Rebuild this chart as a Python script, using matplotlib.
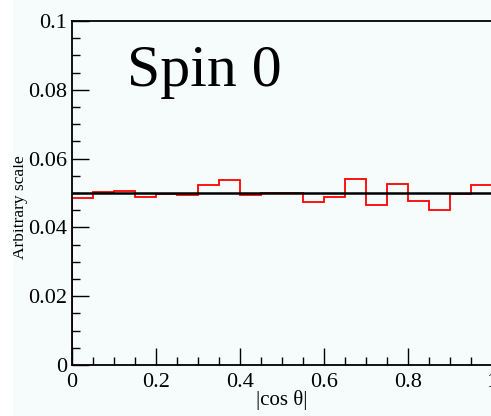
import numpy as np
import matplotlib
matplotlib.use("Agg")
import matplotlib.pyplot as plt
from matplotlib.ticker import MultipleLocator, FormatStrFormatter
from matplotlib.patches import Rectangle

# ---- DATA ---- #
bin_edges = np.linspace(0.0, 1.0, 21)
spin0_hist = [0.0485, 0.0502, 0.0506, 0.0487, 0.0498, 0.0493, 0.0522, 0.0539, 0.0494, 0.0501,
              0.0500, 0.0474, 0.0488, 0.0541, 0.0465, 0.0525, 0.0478, 0.0452, 0.0497, 0.0522]
flat_level = 0.05
x_ticks = [0, 0.2, 0.4, 0.6, 0.8, 1.0]
y_ticks = [0, 0.02, 0.04, 0.06, 0.08, 0.1]

plt.rcParams['font.family'] = ['Liberation Serif', 'DejaVu Serif']

# ---- PLOT ---- #
fig = plt.figure(figsize=(4.91, 4.16), dpi=100, facecolor='#f6fbfb')
ax = fig.add_axes([72 / 491, 1 - 365 / 416, 420 / 491, 344 / 416])
ax.set_facecolor('#f6fbfb')

ax.stairs(spin0_hist, bin_edges, color='red', lw=1.3)
ax.axhline(flat_level, color='black', lw=1.8)

ax.set_xlim(0, 1)
ax.set_ylim(0, 0.1)
ax.set_xticks(x_ticks)
ax.set_yticks(y_ticks)
ax.xaxis.set_major_formatter(FormatStrFormatter('%g'))
ax.yaxis.set_major_formatter(FormatStrFormatter('%g'))
ax.xaxis.set_minor_locator(MultipleLocator(0.05))
ax.yaxis.set_minor_locator(MultipleLocator(0.005))
ax.tick_params(which='both', direction='in', top=False, right=False, width=1, labelsize=16)
ax.tick_params(which='major', length=12)
ax.tick_params(which='minor', length=6)
ax.tick_params(axis='x', pad=5.5)
ax.tick_params(axis='y', pad=3.5)
for s in ax.spines.values():
    s.set_linewidth(1.3)

ax.set_xlabel('|cos θ|', fontsize=15)
ax.xaxis.set_label_coords(0.5, -0.073)
ax.set_ylabel('Arbitrary scale', fontsize=12.5)
ax.yaxis.set_label_coords(-0.104, 0.46)
ax.text(0.13, 0.081, 'Spin 0', fontsize=43, va='baseline', ha='left')

# white strip at left edge, as in the original scan
fig.add_artist(Rectangle((0, 0), 13 / 491, 1, transform=fig.transFigure,
                         facecolor='white', edgecolor='none', zorder=10))

fig.savefig("out.png", dpi=100, facecolor=fig.get_facecolor())
plt.close()
